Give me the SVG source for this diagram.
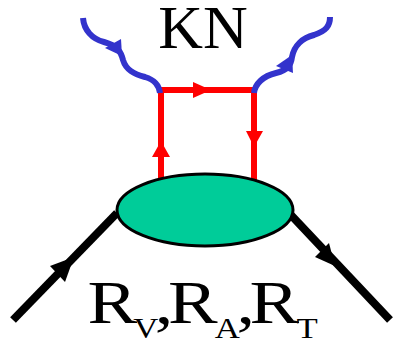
<svg xmlns="http://www.w3.org/2000/svg" width="394" height="342" viewBox="0 0 394 342">
<style>
.red{stroke:#ff0000;stroke-width:6;fill:none}
.blue{stroke:#3333cc;stroke-width:6;fill:none;stroke-linecap:butt}
.blk{stroke:#000;stroke-width:8;fill:none}
.rh{fill:#ff0000}
.bh{fill:#3333cc}
.kh{fill:#000}
.t{font-family:"Liberation Serif","Times New Roman",serif;fill:#000}
</style>
<rect width="394" height="342" fill="#fff"/>
<g id="connectors">
<path class="blk" d="M13,320 L117,213"/>
<polygon class="kh" points="74,257 50,266 65,282"/>
<path class="blk" d="M290,214 L390,320"/>
<polygon class="kh" points="335,266 315,257 329,243"/>
<path class="red" d="M161,180 V90 H254 V181"/>
<polygon class="rh" points="211,90 193,82 193,98"/>
<polygon class="rh" points="161,141 152,157 170,157"/>
<polygon class="rh" points="254,147 246,131 263,131"/>
<path class="blue" d="M83,18 C84,30 92,39 104,42 C118,46 121,52 123,60 C126,70 134,74 145,77 C155,80 159,85 160,93"/>
<polygon class="bh" points="105,48 121,39 122,56"/>
<path class="blue" d="M254,93 C255,84 263,76 276,73 C288,70 291,65 292,57 C294,46 302,38 314,35 C326,31 330,26 330,17"/>
<polygon class="bh" points="276,66 292,55 293,73"/>
</g>
<g id="blob">
<ellipse cx="205" cy="210" rx="88" ry="36" fill="#00cc99" stroke="#000" stroke-width="3"/>
</g>
<g id="label-kn">
<text class="t" x="203" y="48" font-size="62" text-anchor="middle">KN</text>
</g>
<g id="label-r" transform="scale(1.2,1)">
<text class="t" font-size="62"><tspan x="73" y="323">R</tspan><tspan x="111" y="338" font-size="29">V</tspan><tspan x="129" y="323">,</tspan><tspan x="140" y="323">R</tspan><tspan x="179" y="338" font-size="29">A</tspan><tspan x="197" y="323">,</tspan><tspan x="208" y="323">R</tspan><tspan x="247" y="338" font-size="29">T</tspan></text>
</g>
</svg>
